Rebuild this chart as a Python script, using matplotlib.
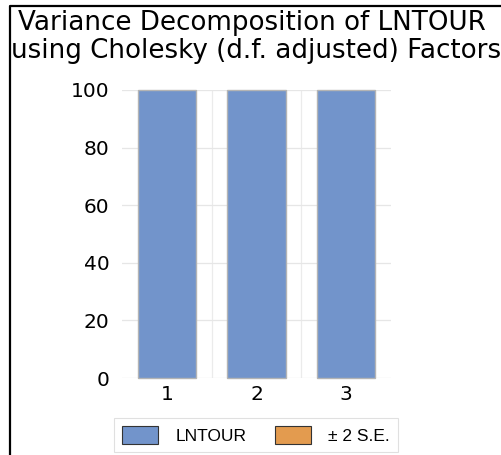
import matplotlib
matplotlib.use('Agg')
import matplotlib.pyplot as plt
from matplotlib.patches import Patch
from matplotlib.lines import Line2D
import numpy as np

# Data
periods = ['1', '2', '3']
lntour = [100.0, 100.0, 100.0]
y_ticks = [0, 20, 40, 60, 80, 100]

blue = '#7294CB'
orange = '#E39B4F'

fig = plt.figure(figsize=(5.01, 4.55), dpi=100)
ax = fig.add_axes([0.2435, 0.1692, 0.537, 0.633])

x = np.arange(len(periods))
ax.bar(x, lntour, width=0.65, color=blue, edgecolor='#B4B4B4', linewidth=1.0,
       zorder=3, clip_on=False)

ax.set_xlim(-0.5, len(periods) - 0.5)
ax.set_ylim(0, 100)
ax.set_yticks(y_ticks)
ax.set_xticks(x)
ax.set_xticklabels(periods)

# light gridlines: horizontal at ticks, vertical between categories
ax.grid(axis='y', color='#E6E6E6', linewidth=0.9, zorder=0)
for b in x[:-1] + 0.5:
    ax.axvline(b, color='#EBEBEB', linewidth=0.9, zorder=0)

for s in ax.spines.values():
    s.set_visible(False)
ax.tick_params(length=0, labelsize=14.5, pad=9)
ax.tick_params(axis='x', pad=5)
for lbl in ax.get_xticklabels() + ax.get_yticklabels():
    lbl.set_family('DejaVu Sans')

# title, two lines
fig.text(0.5 + 1 / 501, 1 - 30 / 455, 'Variance Decomposition of LNTOUR',
         ha='center', va='baseline', fontsize=18.8, family='DejaVu Sans')
fig.text(0.5 + 6 / 501, 1 - 58 / 455, 'using Cholesky (d.f. adjusted) Factors',
         ha='center', va='baseline', fontsize=18.8, family='DejaVu Sans')

# cropped frame (left and top edges)
fig.add_artist(Line2D([10 / 501, 10 / 501, 1.0], [0.0, 1 - 6 / 455, 1 - 6 / 455],
                      transform=fig.transFigure, color='black', linewidth=1.6))

handles = [Patch(facecolor=blue, edgecolor='#333333', linewidth=0.8, label='LNTOUR'),
           Patch(facecolor=orange, edgecolor='#333333', linewidth=0.8, label='± 2 S.E.')]
leg = fig.legend(handles=handles, loc='center', bbox_to_anchor=(256 / 501, 1 - 435 / 455),
                 ncol=2, frameon=True, fancybox=False,
                 handlelength=2.1, handleheight=1.2, handletextpad=1.0, columnspacing=1.6,
                 borderpad=0.45, prop={'family': 'Liberation Sans', 'size': 12.5})
leg.get_frame().set_edgecolor('#D9D9D9')
leg.get_frame().set_linewidth(0.8)

plt.savefig('out.png', dpi=100)
